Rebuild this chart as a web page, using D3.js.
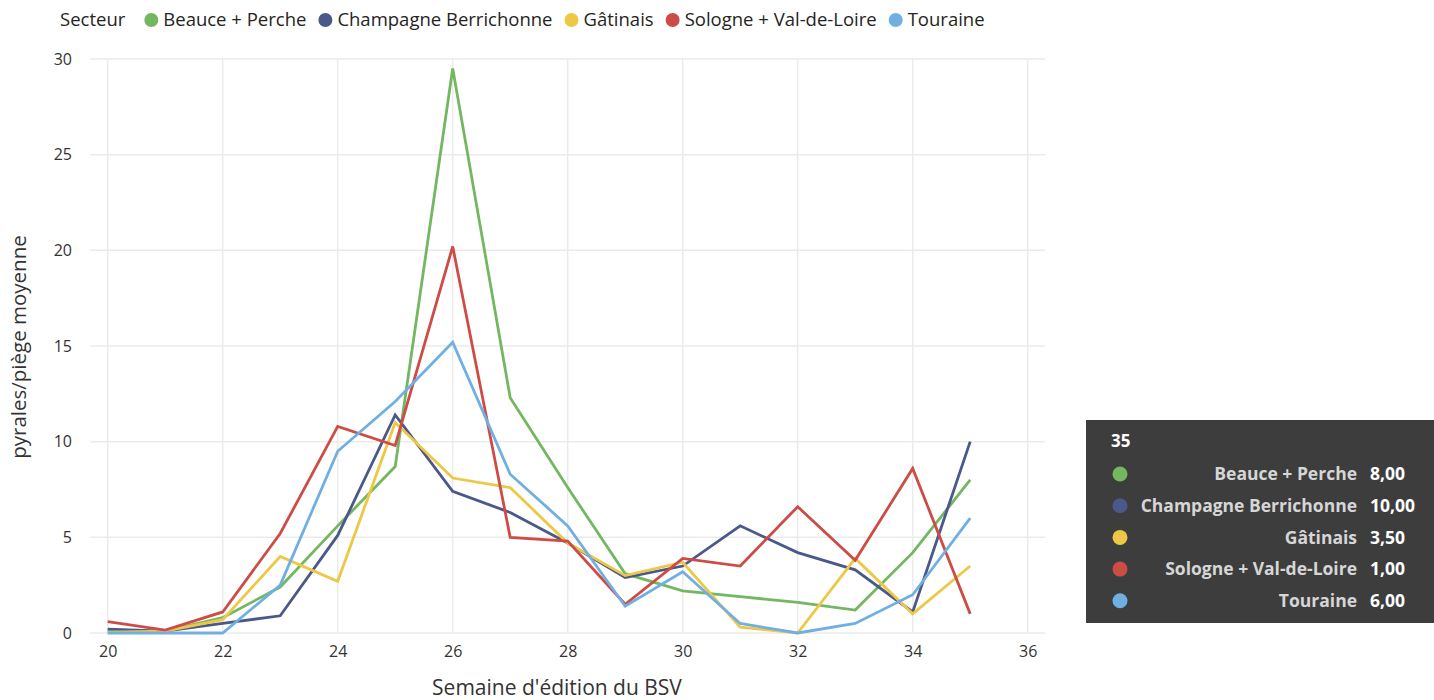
<!DOCTYPE html>
<html>
<head>
<meta charset="utf-8">
<script src="https://cdn.jsdelivr.net/npm/d3@7"></script>
<style>
  body { margin: 0; background: #fff; }
  svg { font-family: "Open Sans", "Noto Sans", sans-serif; }
</style>
</head>
<body>
<svg width="1434" height="700"></svg>
<script>
const weeks = [20, 21, 22, 23, 24, 25, 26, 27, 28, 29, 30, 31, 32, 33, 34, 35];
const sectors = ["Beauce + Perche", "Champagne Berrichonne", "Gâtinais", "Sologne + Val-de-Loire", "Touraine"];
const colors = ["#73b761", "#4a588a", "#ecc846", "#cd4c46", "#71afe2"];

const beauce     = [0.1, 0.1, 0.8, 2.4, 5.6, 8.7, 29.5, 12.3, 7.6, 3.1, 2.2, 1.9, 1.6, 1.2, 4.2, 8.0];
const champagne  = [0.2, 0.1, 0.5, 0.9, 5.1, 11.4, 7.4, 6.3, 4.7, 2.9, 3.5, 5.6, 4.2, 3.3, 1.1, 10.0];
const gatinais   = [0.05, 0.1, 0.7, 4.0, 2.7, 11.0, 8.1, 7.6, 4.7, 3.0, 3.7, 0.3, 0.0, 3.9, 1.0, 3.5];
const sologne    = [0.6, 0.15, 1.1, 5.2, 10.8, 9.8, 20.2, 5.0, 4.8, 1.5, 3.9, 3.5, 6.6, 3.8, 8.6, 1.0];
const touraine   = [0.0, 0.0, 0.0, 2.5, 9.5, 12.1, 15.2, 8.3, 5.6, 1.4, 3.2, 0.5, 0.0, 0.5, 2.0, 6.0];
const seriesValues = [beauce, champagne, gatinais, sologne, touraine];

const xTicks = [20, 22, 24, 26, 28, 30, 32, 34, 36];
const yTicks = [0, 5, 10, 15, 20, 25, 30];

const tooltipWeek = 35;

const svg = d3.select("svg");

const x = d3.scaleLinear().domain([20, 36]).range([107.7, 1027.7]);
const y = d3.scaleLinear().domain([0, 30]).range([633, 59]);

const gridLeft = 90, gridRight = 1045;

// Grid
svg.append("g")
  .selectAll("line")
  .data(yTicks)
  .join("line")
  .attr("x1", gridLeft)
  .attr("x2", gridRight)
  .attr("y1", d => y(d))
  .attr("y2", d => y(d))
  .attr("stroke", "#ebebeb")
  .attr("stroke-width", 1.5);

svg.append("g")
  .selectAll("line")
  .data(xTicks)
  .join("line")
  .attr("x1", d => x(d))
  .attr("x2", d => x(d))
  .attr("y1", y(30))
  .attr("y2", y(0))
  .attr("stroke", "#ebebeb")
  .attr("stroke-width", 1.5);

// Axes
const yAxis = svg.append("g")
  .attr("transform", `translate(${gridLeft - 10},0)`)
  .call(d3.axisLeft(y).tickValues(yTicks).tickSize(0).tickPadding(8));
yAxis.select(".domain").remove();
yAxis.selectAll("text")
  .style("font-size", "16px")
  .style("font-family", "'Open Sans', sans-serif")
  .attr("fill", "#333");

const xAxis = svg.append("g")
  .attr("transform", `translate(0,${y(0) + 13})`)
  .call(d3.axisBottom(x).tickValues(xTicks).tickSize(0).tickPadding(0));
xAxis.select(".domain").remove();
xAxis.selectAll("text")
  .attr("dy", "0.71em")
  .style("font-size", "16px")
  .style("font-family", "'Open Sans', sans-serif")
  .attr("fill", "#333");

// Axis titles
svg.append("text")
  .attr("x", 557)
  .attr("y", 695)
  .attr("text-anchor", "middle")
  .style("font-size", "21px")
  .attr("fill", "#333")
  .text("Semaine d'édition du BSV");

svg.append("text")
  .attr("transform", `translate(26,347) rotate(-90)`)
  .attr("text-anchor", "middle")
  .style("font-size", "20.5px")
  .attr("fill", "#333")
  .text("pyrales/piège moyenne");

// Lines
const line = d3.line()
  .x((d, i) => x(weeks[i]))
  .y(d => y(d));

svg.append("g")
  .selectAll("path")
  .data(seriesValues)
  .join("path")
  .attr("fill", "none")
  .attr("stroke", (d, i) => colors[i])
  .attr("stroke-width", 2.8)
  .attr("stroke-linejoin", "miter")
  .attr("d", line);

// Legend
const legend = svg.append("g").attr("transform", "translate(60,20)");
const title = legend.append("text")
  .attr("x", 0)
  .attr("dy", "0.35em")
  .style("font-size", "18.5px")
  .attr("fill", "#252423")
  .text("Secteur");

let lx = title.node().getComputedTextLength() + 19;
sectors.forEach((s, i) => {
  const item = legend.append("g").attr("transform", `translate(${lx},0)`);
  item.append("circle").attr("cx", 7).attr("cy", 0).attr("r", 7).attr("fill", colors[i]);
  const t = item.append("text")
    .attr("x", 19)
    .attr("dy", "0.35em")
    .style("font-size", "18.5px")
    .attr("fill", "#252423")
    .text(s);
  lx += 19 + t.node().getComputedTextLength() + 12;
});

// Tooltip panel
const idx = weeks.indexOf(tooltipWeek);
const tip = svg.append("g").attr("transform", "translate(1086,420)");
tip.append("rect")
  .attr("width", 348)
  .attr("height", 203)
  .attr("fill", "#3d3d3d");
tip.append("text")
  .attr("x", 25)
  .attr("y", 21)
  .attr("dy", "0.35em")
  .style("font-size", "17px")
  .style("font-weight", "700")
  .attr("fill", "#fff")
  .text(tooltipWeek);

sectors.forEach((s, i) => {
  const ry = 54 + i * 31.7;
  tip.append("circle").attr("cx", 34).attr("cy", ry).attr("r", 7.5).attr("fill", colors[i]);
  tip.append("text")
    .attr("x", 271)
    .attr("y", ry)
    .attr("dy", "0.35em")
    .attr("text-anchor", "end")
    .style("font-size", "17.5px")
    .style("font-weight", "700")
    .attr("fill", "#d6d6d6")
    .text(s);
  tip.append("text")
    .attr("x", 284)
    .attr("y", ry)
    .attr("dy", "0.35em")
    .style("font-size", "17.5px")
    .style("font-weight", "700")
    .attr("fill", "#fff")
    .text(seriesValues[i][idx].toFixed(2).replace(".", ","));
});
</script>
</body>
</html>
